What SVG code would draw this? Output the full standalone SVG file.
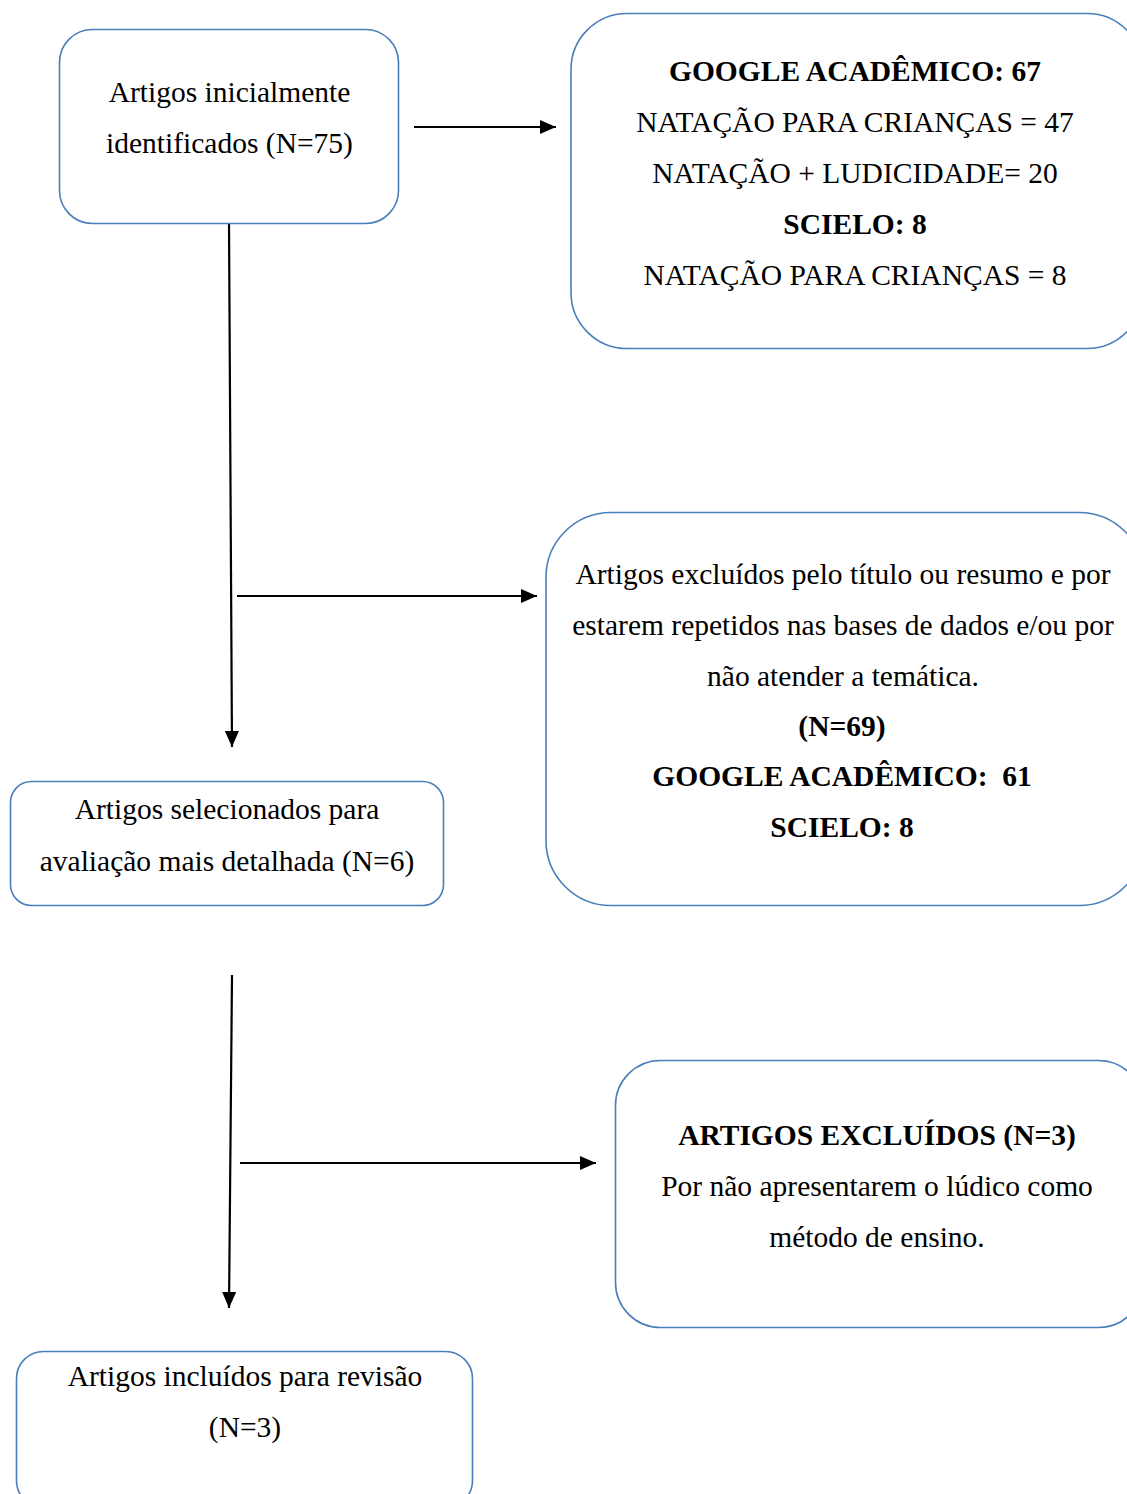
<svg xmlns="http://www.w3.org/2000/svg" width="1127" height="1494" viewBox="0 0 1127 1494">
  <style>
    .box { fill: #ffffff; stroke: #4a7ebb; stroke-width: 1.6; }
    .t { font-family: "Liberation Serif", "Times New Roman", serif; font-size: 29.5px; fill: #000000; text-anchor: middle; }
    .b { font-weight: bold; }
    .wire { stroke: #000000; stroke-width: 2.2; fill: none; }
  </style>
  <defs>
    <marker id="arrow" viewBox="0 0 16 14" refX="16" refY="7" markerWidth="16" markerHeight="14" markerUnits="userSpaceOnUse" orient="auto">
      <path d="M0,0 L16,7 L0,14 Z" fill="#000000"/>
    </marker>
  </defs>
  <rect width="1127" height="1494" fill="#ffffff"/>

  <!-- connectors -->
  <g id="connectors">
    <line class="wire" x1="414" y1="127" x2="556" y2="127" marker-end="url(#arrow)"/>
    <line class="wire" x1="229" y1="223" x2="232" y2="747" marker-end="url(#arrow)"/>
    <line class="wire" x1="237" y1="596" x2="537" y2="596" marker-end="url(#arrow)"/>
    <line class="wire" x1="232" y1="975" x2="229" y2="1308" marker-end="url(#arrow)"/>
    <line class="wire" x1="240" y1="1163" x2="596" y2="1163" marker-end="url(#arrow)"/>
  </g>

  <!-- initial identification -->
  <g id="node-identificados">
    <rect class="box" x="59.5" y="29.5" width="339" height="194" rx="33" ry="33"/>
    <text class="t" x="229.5" y="102">Artigos inicialmente</text>
    <text class="t" x="229.5" y="153">identificados (N=75)</text>
  </g>

  <!-- search sources -->
  <g id="node-bases">
    <rect class="box" x="571" y="13.5" width="572" height="335" rx="56" ry="56"/>
    <text class="t b" x="855" y="81">GOOGLE ACADÊMICO: 67</text>
    <text class="t" x="855" y="132">NATAÇÃO PARA CRIANÇAS = 47</text>
    <text class="t" x="855" y="183">NATAÇÃO + LUDICIDADE= 20</text>
    <text class="t b" x="855" y="234">SCIELO: 8</text>
    <text class="t" x="855" y="285">NATAÇÃO PARA CRIANÇAS = 8</text>
  </g>

  <!-- first exclusion -->
  <g id="node-excluidos-1">
    <rect class="box" x="546" y="512.5" width="598" height="393" rx="65" ry="65"/>
    <text class="t" x="843" y="584">Artigos excluídos pelo título ou resumo e por</text>
    <text class="t" x="843" y="635">estarem repetidos nas bases de dados e/ou por</text>
    <text class="t" x="843" y="686">não atender a temática.</text>
    <text class="t b" x="842" y="736">(N=69)</text>
    <text class="t b" x="842" y="786">GOOGLE ACADÊMICO:&#160; 61</text>
    <text class="t b" x="842" y="837">SCIELO: 8</text>
  </g>

  <!-- selected for detailed review -->
  <g id="node-selecionados">
    <rect class="box" x="10.5" y="781.5" width="433" height="124" rx="21" ry="21"/>
    <text class="t" x="227" y="819">Artigos selecionados para</text>
    <text class="t" x="227" y="871">avaliação mais detalhada (N=6)</text>
  </g>

  <!-- second exclusion -->
  <g id="node-excluidos-2">
    <rect class="box" x="615.5" y="1060.5" width="528" height="267" rx="45" ry="45"/>
    <text class="t b" x="877" y="1145">ARTIGOS EXCLUÍDOS (N=3)</text>
    <text class="t" x="877" y="1196">Por não apresentarem o lúdico como</text>
    <text class="t" x="877" y="1247">método de ensino.</text>
  </g>

  <!-- included -->
  <g id="node-incluidos">
    <rect class="box" x="16.5" y="1351.5" width="456" height="156" rx="27" ry="27"/>
    <text class="t" x="245" y="1386">Artigos incluídos para revisão</text>
    <text class="t" x="245" y="1437">(N=3)</text>
  </g>
</svg>
